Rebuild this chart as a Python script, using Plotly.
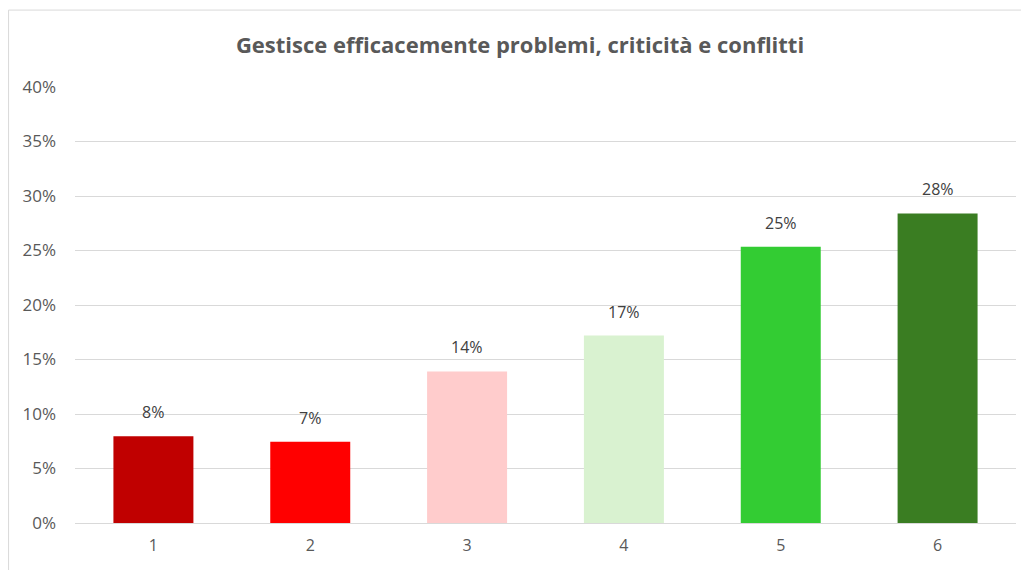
import plotly.graph_objects as go

categories = ["1", "2", "3", "4", "5", "6"]
values = [0.0795, 0.0745, 0.139, 0.172, 0.2535, 0.284]
colors = ["#C00000", "#FF0000", "#FFCCCC", "#D9F2D0", "#33CC33", "#3A7D22"]
title = "Gestisce efficacemente problemi, criticità e conflitti"
font_family = "Open Sans, Roboto, Arial"

fig = go.Figure(go.Bar(
    x=categories, y=values,
    marker=dict(color=colors, line=dict(width=0)),
    hoverinfo="x+y",
))

for i, v in enumerate(values):
    fig.add_annotation(x=i, y=v, text=f"{v:.0%}", showarrow=False,
                       yanchor="bottom", yshift=11,
                       font=dict(size=16, color="#404040", family=font_family))

W, H = 1029, 570
off = 8  # page body margin
l, t = 74.5 - off, 87 - off
r = W - (1016.5 - off)
b = H - (523.5 - off)
pw, ph = W - l - r, H - t - b

fig.update_layout(
    width=W, height=H,
    margin=dict(l=l, r=r, t=t, b=b),
    paper_bgcolor="white", plot_bgcolor="white",
    bargap=0.49,
    showlegend=False,
    title=dict(text="<b>" + title + "</b>", x=(520 - off - l) / pw, xref="paper", xanchor="center",
               y=1 - (45 - off) / H, yanchor="middle",
               font=dict(size=22, color="#595959", family=font_family)),
    xaxis=dict(type="category", showgrid=False, showline=True, linecolor="#D9D9D9", linewidth=1,
               tickfont=dict(size=16, color="#595959", family=font_family),
               ticks="", range=[-0.5, 5.5], ticklabelstandoff=8),
    yaxis=dict(range=[0, 0.40], dtick=0.05, tickformat=".0%", showgrid=True,
               gridcolor="#D9D9D9", gridwidth=1, zeroline=False,
               tickfont=dict(size=17, color="#595959", family=font_family),
               ticklabelstandoff=18),
    shapes=[dict(type="rect", xref="paper", yref="paper",
                 x0=(0 - l) / pw, x1=(1040 - l) / pw,
                 y0=-0.3, y1=(H - b - 2) / ph,
                 line=dict(color="#D9D9D9", width=1), layer="below")],
)

fig.write_html("out.html")
